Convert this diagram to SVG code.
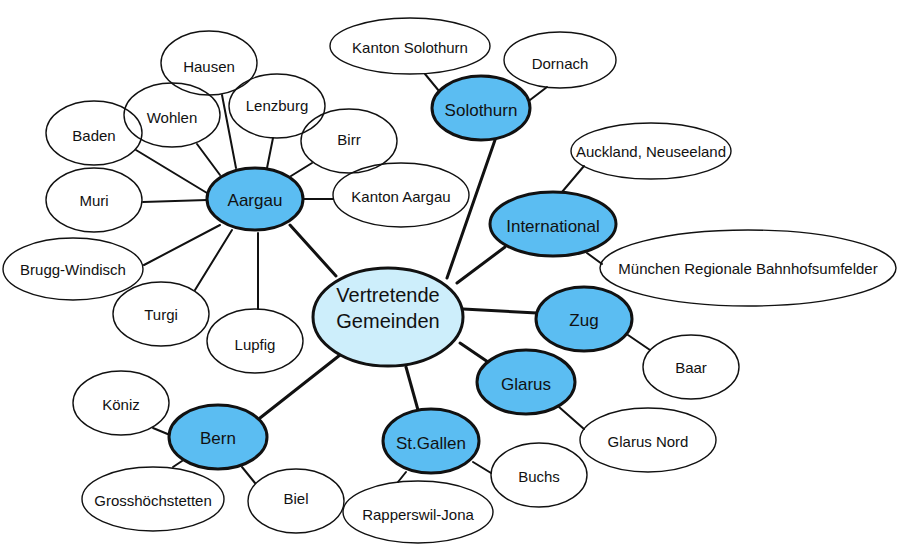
<svg xmlns="http://www.w3.org/2000/svg" width="903" height="548" viewBox="0 0 903 548">
<style>
.leaf{fill:none;stroke:#111;stroke-width:1.4}
.hub{fill:#5bbdf2;stroke:#111;stroke-width:3}
.core{fill:#cdeefb;stroke:#111;stroke-width:3}
.c{stroke:#111;stroke-width:2;stroke-linecap:round;fill:none}
.m{stroke:#111;stroke-width:3;stroke-linecap:round;fill:none}
text{font-family:"Liberation Sans",Arial,sans-serif;font-size:15px;fill:#111;text-anchor:middle;dominant-baseline:central}
.h{font-size:17px}
.big{font-size:20px}
</style>
<rect width="903" height="548" fill="#fff"/>
<g id="connectors">
<line class="m" x1="290" y1="225" x2="336" y2="276"/>
<line class="m" x1="495" y1="140" x2="447" y2="278"/>
<line class="m" x1="505" y1="247" x2="457" y2="283"/>
<line class="m" x1="463" y1="309" x2="537" y2="313"/>
<line class="m" x1="460" y1="343" x2="488" y2="362"/>
<line class="m" x1="406" y1="367" x2="418" y2="410"/>
<line class="m" x1="340" y1="355" x2="260" y2="418"/>
<line class="c" x1="136" y1="150" x2="207" y2="193"/>
<line class="c" x1="197" y1="144" x2="220" y2="175"/>
<line class="c" x1="222" y1="95" x2="236" y2="168"/>
<line class="c" x1="273" y1="138" x2="267" y2="168"/>
<line class="c" x1="312" y1="163" x2="291" y2="176"/>
<line class="c" x1="303" y1="199" x2="333" y2="199"/>
<line class="c" x1="143" y1="202" x2="207" y2="200"/>
<line class="c" x1="144" y1="265" x2="220" y2="225"/>
<line class="c" x1="232" y1="230" x2="195" y2="290"/>
<line class="c" x1="258" y1="233" x2="258" y2="309"/>
<line class="c" x1="425" y1="74" x2="439" y2="91"/>
<line class="c" x1="530" y1="100" x2="547" y2="87"/>
<line class="c" x1="584" y1="166" x2="562" y2="192"/>
<line class="c" x1="587" y1="253" x2="602" y2="264"/>
<line class="c" x1="628" y1="335" x2="650" y2="350"/>
<line class="c" x1="559" y1="407" x2="584" y2="429"/>
<line class="c" x1="473" y1="462" x2="491" y2="473"/>
<line class="c" x1="406" y1="472" x2="398" y2="482"/>
<line class="c" x1="153" y1="428" x2="170" y2="435"/>
<line class="c" x1="173" y1="467" x2="182" y2="461"/>
<line class="c" x1="242" y1="467" x2="255" y2="483"/>
</g>
<g id="center"><ellipse class="core" cx="388" cy="317" rx="75" ry="49"/><text class="big" x="388" y="295">Vertretende</text><text class="big" x="388" y="321">Gemeinden</text></g>
<g id="aargau"><ellipse class="hub" cx="255" cy="199" rx="48" ry="31"/><text class="h" x="255" y="200">Aargau</text></g>
<g id="solothurn"><ellipse class="hub" cx="481" cy="108" rx="49" ry="32"/><text class="h" x="481" y="110">Solothurn</text></g>
<g id="international"><ellipse class="hub" cx="553" cy="224" rx="63" ry="32"/><text class="h" x="553" y="226">International</text></g>
<g id="zug"><ellipse class="hub" cx="584" cy="319" rx="48" ry="32"/><text class="h" x="584" y="320">Zug</text></g>
<g id="glarus"><ellipse class="hub" cx="526" cy="382" rx="49" ry="32"/><text class="h" x="526" y="384">Glarus</text></g>
<g id="stgallen"><ellipse class="hub" cx="431" cy="441" rx="48" ry="32"/><text class="h" x="431" y="443">St.Gallen</text></g>
<g id="bern"><ellipse class="hub" cx="218" cy="437" rx="49" ry="32"/><text class="h" x="218" y="438">Bern</text></g>
<g id="hausen"><ellipse class="leaf" cx="209" cy="63" rx="48" ry="32"/><text x="209" y="66">Hausen</text></g>
<g id="wohlen"><ellipse class="leaf" cx="172" cy="115" rx="48" ry="32"/><text x="172" y="117">Wohlen</text></g>
<g id="baden"><ellipse class="leaf" cx="94" cy="133" rx="48" ry="32"/><text x="94" y="135">Baden</text></g>
<g id="lenzburg"><ellipse class="leaf" cx="277" cy="106" rx="48" ry="32"/><text x="277" y="105">Lenzburg</text></g>
<g id="birr"><ellipse class="leaf" cx="349" cy="141" rx="48" ry="32"/><text x="349" y="139">Birr</text></g>
<g id="kanton-aargau"><ellipse class="leaf" cx="401" cy="195" rx="68" ry="32"/><text x="401" y="196">Kanton Aargau</text></g>
<g id="muri"><ellipse class="leaf" cx="94" cy="200" rx="48" ry="32"/><text x="94" y="200">Muri</text></g>
<g id="brugg"><ellipse class="leaf" cx="73" cy="269" rx="70" ry="31"/><text x="73" y="269">Brugg-Windisch</text></g>
<g id="turgi"><ellipse class="leaf" cx="161" cy="314" rx="48" ry="32"/><text x="161" y="314">Turgi</text></g>
<g id="lupfig"><ellipse class="leaf" cx="255" cy="341" rx="48" ry="32"/><text x="255" y="344">Lupfig</text></g>
<g id="kanton-solothurn"><ellipse class="leaf" cx="410" cy="46" rx="80" ry="28"/><text x="410" y="47">Kanton Solothurn</text></g>
<g id="dornach"><ellipse class="leaf" cx="560" cy="60" rx="56" ry="28"/><text x="560" y="63">Dornach</text></g>
<g id="auckland"><ellipse class="leaf" cx="651" cy="151" rx="80" ry="28"/><text x="651" y="151">Auckland, Neuseeland</text></g>
<g id="muenchen"><ellipse class="leaf" cx="748" cy="268" rx="148" ry="38"/><text x="748" y="268">München Regionale Bahnhofsumfelder</text></g>
<g id="baar"><ellipse class="leaf" cx="691" cy="367" rx="48" ry="32"/><text x="691" y="367">Baar</text></g>
<g id="glarus-nord"><ellipse class="leaf" cx="648" cy="440" rx="68" ry="32"/><text x="648" y="441">Glarus Nord</text></g>
<g id="buchs"><ellipse class="leaf" cx="539" cy="475" rx="48" ry="32"/><text x="539" y="476">Buchs</text></g>
<g id="rapperswil"><ellipse class="leaf" cx="418" cy="512" rx="75" ry="31"/><text x="418" y="514">Rapperswil-Jona</text></g>
<g id="koeniz"><ellipse class="leaf" cx="121" cy="403" rx="48" ry="32"/><text x="121" y="404">Köniz</text></g>
<g id="grosshoechstetten"><ellipse class="leaf" cx="153" cy="499" rx="71" ry="32"/><text x="153" y="500">Grosshöchstetten</text></g>
<g id="biel"><ellipse class="leaf" cx="296" cy="501" rx="48" ry="32"/><text x="296" y="498">Biel</text></g>
</svg>
